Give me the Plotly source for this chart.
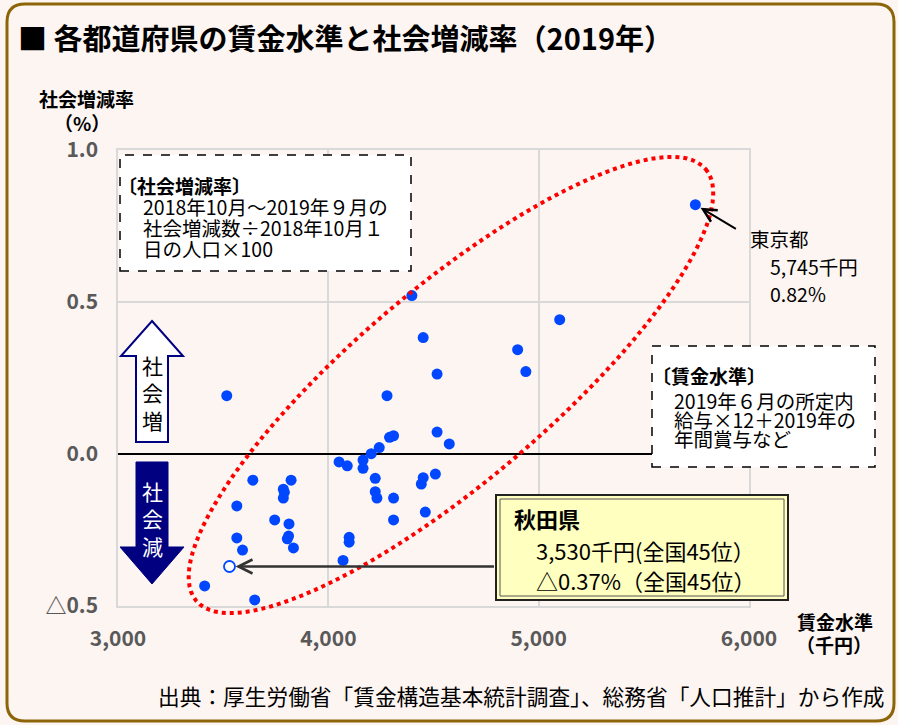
import numpy as np
import plotly.graph_objects as go

# ---------------- data ----------------
other_wage = [4397, 5100, 4451, 4900, 4939, 4517, 3517, 4279, 4517, 4575,
              4291, 4310, 4242, 4204, 4165, 4165, 4051, 4090, 4223, 4509,
              4451, 4442, 4223, 4231, 4310, 4461, 4310, 4099, 4099, 4070,
              3641, 3823, 3786, 3791, 3786, 3565, 3745, 3813, 3565, 3811,
              3805, 3592, 3834, 3412, 3650]
other_rate = [0.521, 0.442, 0.383, 0.343, 0.271, 0.263, 0.192, 0.192, 0.072, 0.033,
              0.055, 0.060, 0.021, 0.001, -0.020, -0.047, -0.026, -0.039, -0.080, -0.066,
              -0.078, -0.099, -0.124, -0.145, -0.145, -0.191, -0.217, -0.274, -0.290, -0.350,
              -0.086, -0.086, -0.116, -0.126, -0.145, -0.171, -0.217, -0.230, -0.276, -0.270,
              -0.279, -0.316, -0.309, -0.434, -0.480]
tokyo_wage = [5745]
tokyo_rate = [0.82]
akita_wage = [3530]
akita_rate = [-0.37]

x_tickvals = [3000, 4000, 5000, 6000]
x_ticktext = ["3,000", "4,000", "5,000", "6,000"]
y_tickvals = [-0.5, 0.0, 0.5, 1.0]
y_ticktext = ["△0.5", "0.0", "0.5", "1.0"]
X_RANGE = [3000, 6000]
Y_RANGE = [-0.5, 1.0]

# ---------------- layout helpers ----------------
W, H = 898, 725
ML, MR, MT, MB = 118, 149, 150, 119
PW = W - ML - MR
PH = H - MT - MB
FONT = "Noto Sans CJK JP"
BG = "#FDF5F2"
NAVY = "#000080"


def pp(px, py):
    """pixel -> paper coords"""
    return (px - ML) / PW, (H - MB - py) / PH


def d2p(x, y):
    """data -> paper coords via axis ranges"""
    return ((x - X_RANGE[0]) / (X_RANGE[1] - X_RANGE[0]),
            (y - Y_RANGE[0]) / (Y_RANGE[1] - Y_RANGE[0]))


def path_px(cmds):
    out = []
    for c in cmds:
        if isinstance(c, str):
            out.append(c)
        else:
            x, y = pp(*c)
            out.append(f"{x:.5f},{y:.5f}")
    return " ".join(out)


shapes = []

# outer rounded border
x0, y0, x1, y1, r = 7, 4, 894, 721, 18
shapes.append(dict(
    type="path", xref="paper", yref="paper", layer="above",
    path=path_px(["M", (x0 + r, y0), "L", (x1 - r, y0), "Q", (x1, y0), (x1, y0 + r),
                  "L", (x1, y1 - r), "Q", (x1, y1), (x1 - r, y1),
                  "L", (x0 + r, y1), "Q", (x0, y1), (x0, y1 - r),
                  "L", (x0, y0 + r), "Q", (x0, y0), (x0 + r, y0), "Z"]),
    line=dict(color="#8B6508", width=3), fillcolor="rgba(0,0,0,0)"))

# dotted ellipse (data coords -> paper)
ec_x, ec_y = 4583, 0.227
ea_x, ea_y = 1211, 0.710
eb_x, eb_y = 298, -0.243
t = np.linspace(0, 2 * np.pi, 121)
ex = ec_x + ea_x * np.cos(t) + eb_x * np.sin(t)
ey = ec_y + ea_y * np.cos(t) + eb_y * np.sin(t)
pts = [d2p(a, b) for a, b in zip(ex, ey)]
epath = "M " + " L ".join(f"{a:.5f},{b:.5f}" for a, b in pts) + " Z"
shapes.append(dict(type="path", xref="paper", yref="paper", layer="above",
                   path=epath, line=dict(color="#FF0000", width=4, dash="dot")))


def rect(px0, py0, px1, py1, line, fill):
    a = pp(px0, py0)
    b = pp(px1, py1)
    return dict(type="rect", xref="paper", yref="paper", layer="above",
                x0=a[0], y0=b[1], x1=b[0], y1=a[1], line=line, fillcolor=fill)


# explanation boxes
shapes.append(rect(120, 155, 411, 271, dict(color="black", width=1.5, dash="dash"), "white"))
shapes.append(rect(652, 346, 875, 467, dict(color="black", width=1.5, dash="dash"), "white"))
# Akita box (double border)
shapes.append(rect(496, 495, 788, 600, dict(color="#222222", width=2), "#FFFFC0"))
shapes.append(rect(500, 499, 784, 596, dict(color="#555555", width=1), "rgba(0,0,0,0)"))

# up arrow (社会増)
shapes.append(dict(type="path", xref="paper", yref="paper", layer="above",
                   path=path_px(["M", (152, 321), "L", (183, 356), "L", (168, 356), "L", (168, 442),
                                 "L", (136, 442), "L", (136, 356), "L", (121, 356), "Z"]),
                   line=dict(color=NAVY, width=2), fillcolor="white"))
# down arrow (社会減)
shapes.append(dict(type="path", xref="paper", yref="paper", layer="above",
                   path=path_px(["M", (136, 462), "L", (168, 462), "L", (168, 547), "L", (184, 547),
                                 "L", (152, 584), "L", (120, 547), "L", (136, 547), "Z"]),
                   line=dict(color=NAVY, width=1), fillcolor=NAVY))

annotations = []


def txt(text, px, py, size, bold=False, color="black", anchor="left"):
    x, y = pp(px, py)
    annotations.append(dict(
        text=text, x=x, y=y, xref="paper", yref="paper", xanchor=anchor, yanchor="middle",
        showarrow=False, align="center" if anchor == "center" else "left", borderpad=0,
        font=dict(family=FONT, size=size, color=color, weight="bold" if bold else "normal")))


# title
txt("■ 各都道府県の賃金水準と社会増減率（2019年）", 17, 37, 29, bold=True)
# axis titles
txt("社会増減率", 86, 98, 19, bold=True, anchor="center")
txt("（%）", 82, 122, 19, bold=True, anchor="center")
txt("賃金水準", 835, 621, 19, bold=True, anchor="center")
txt("（千円）", 834, 644, 19, bold=True, anchor="center")
# footer
txt("出典：厚生労働省「賃金構造基本統計調査」、総務省「人口推計」から作成", 157, 695, 21.7)

# box 1
txt("〔社会増減率〕", 117, 185, 19, bold=True)
txt("2018年10月～2019年９月の", 142, 206, 19.5)
txt("社会増減数÷2018年10月１", 142, 227, 19.5)
txt("日の人口×100", 142, 248, 19.5)
# box 2
txt("〔賃金水準〕", 651, 375, 19, bold=True)
txt("2019年６月の所定内", 673, 400, 19.5)
txt("給与×12＋2019年の", 673, 419, 19.5)
txt("年間賞与など", 673, 438, 19.5)
# Tokyo label
txt("東京都", 749, 238, 19.5)
txt("5,745千円", 769, 266, 19.5)
txt("0.82%", 769, 293, 19.5)
# Akita box text
txt("秋田県", 513, 518, 22, bold=True)
txt("3,530千円(全国45位）", 535, 550, 22)
txt("△0.37%（全国45位）", 535, 580, 22)
# arrow labels
txt("社<br>会<br>増", 152, 392, 21, anchor="center")
txt("社<br>会<br>減", 152, 518, 21, color="white", anchor="center")

# Tokyo arrow
annotations.append(dict(x=tokyo_wage[0], y=tokyo_rate[0], xref="x", yref="y",
                        ax=42, ay=25, axref="pixel", ayref="pixel", text="",
                        showarrow=True, arrowhead=5, arrowsize=1.3, arrowwidth=2,
                        arrowcolor="black", standoff=6))
# Akita arrow
annotations.append(dict(x=akita_wage[0], y=akita_rate[0], xref="x", yref="y",
                        ax=266, ay=0, axref="pixel", ayref="pixel", text="",
                        showarrow=True, arrowhead=5, arrowsize=1.1, arrowwidth=2.5,
                        arrowcolor="#333333", standoff=6))

fig = go.Figure()
fig.add_trace(go.Scatter(
    x=other_wage + tokyo_wage, y=other_rate + tokyo_rate, mode="markers",
    marker=dict(size=11, color="#0047FF", line=dict(width=0)),
    hoverinfo="x+y", showlegend=False))
fig.add_trace(go.Scatter(
    x=akita_wage, y=akita_rate, mode="markers",
    marker=dict(size=11, color="white", line=dict(width=1.8, color="#0047FF")),
    hoverinfo="x+y", showlegend=False))

axis_common = dict(showgrid=True, gridcolor="#D9D9D9", gridwidth=1.5,
                   showline=True, linecolor="#D9D9D9", linewidth=1.5, mirror=True,
                   ticks="", tickfont=dict(family=FONT, size=21, color="#595959", weight="bold"),
                   fixedrange=True)
fig.update_xaxes(range=X_RANGE, tickvals=x_tickvals, ticktext=x_ticktext,
                 zeroline=False, ticklabelstandoff=13, **axis_common)
fig.update_yaxes(range=Y_RANGE, tickvals=y_tickvals, ticktext=y_ticktext,
                 zeroline=True, zerolinecolor="black", zerolinewidth=1.5,
                 ticklabelstandoff=14, **axis_common)

fig.update_layout(
    width=W, height=H, autosize=False,
    margin=dict(l=ML, r=MR, t=MT, b=MB, pad=0),
    paper_bgcolor=BG, plot_bgcolor=BG,
    shapes=shapes, annotations=annotations,
    font=dict(family=FONT),
    showlegend=False)

fig.write_html("out.html", config={"displayModeBar": False},
               post_script="document.body.style.margin='0px';document.body.style.overflow='hidden';")
